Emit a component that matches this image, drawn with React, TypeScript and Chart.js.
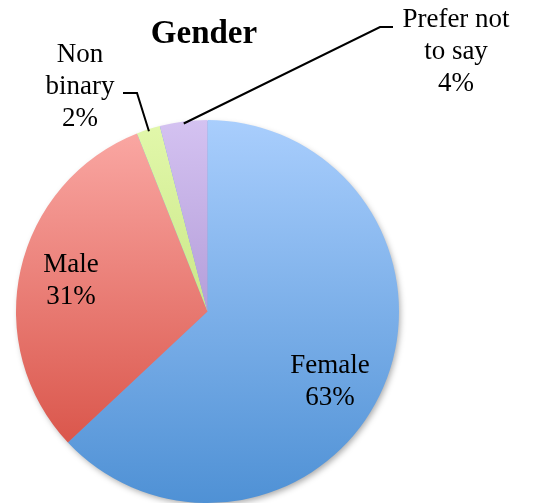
import React, { useEffect, useRef } from "react";
import { Chart, registerables } from "chart.js";

Chart.register(...registerables);

const chartTitle = "Gender";
const categories = ["Female", "Male", "Non binary", "Prefer not to say"];
const values = [63, 31, 2, 4];
const labelLines = [["Female"], ["Male"], ["Non", "binary"], ["Prefer not", "to say"]];

// styles (gradient top / bottom colours per slice)
const topColors = ["#a9cefd", "#fbaaa6", "#e2f8ab", "#d4c2f1"];
const bottomColors = ["#4f91d5", "#d4473b", "#b4d666", "#957ac2"];

// label layout: centre x, first baseline, optional leader line elbow points
const labelLayout = [
  { x: 330, y: 373, leader: null as null | number[][] },
  { x: 71, y: 272, leader: null as null | number[][] },
  { x: 80, y: 62, leader: [[123, 93], [137, 93]] },
  { x: 456, y: 27, leader: [[393, 27], [380, 27]] },
];

const FONT = '"Liberation Serif", "DejaVu Serif", serif';

const labelsPlugin = {
  id: "pieLabels",
  beforeDatasetsDraw(chart: any) {
    const meta = chart.getDatasetMeta(0);
    const arc = meta.data[0];
    if (!arc) return;
    const { x, y, outerRadius } = arc.getProps(["x", "y", "outerRadius"], true);
    const ctx = chart.ctx;
    ctx.save();
    ctx.shadowColor = "rgba(0,0,0,0.35)";
    ctx.shadowBlur = 6;
    ctx.shadowOffsetX = 2;
    ctx.shadowOffsetY = 3;
    ctx.beginPath();
    ctx.arc(x, y, outerRadius - 1, 0, Math.PI * 2);
    ctx.fillStyle = "#6fa6dd";
    ctx.fill();
    ctx.restore();
  },
  afterDraw(chart: any) {
    const ctx = chart.ctx;
    const meta = chart.getDatasetMeta(0);
    ctx.save();
    ctx.fillStyle = "#000";
    ctx.textAlign = "center";
    ctx.textBaseline = "alphabetic";
    ctx.font = `bold 33px ${FONT}`;
    ctx.fillText(chartTitle, 204, 43);

    ctx.font = `27px ${FONT}`;
    const total = values.reduce((a, b) => a + b, 0);
    values.forEach((v, i) => {
      const lay = labelLayout[i];
      const lines = [...labelLines[i], `${Math.round((v / total) * 100)}%`];
      lines.forEach((t, k) => ctx.fillText(t, lay.x, lay.y + k * 32));
      if (lay.leader) {
        const el = meta.data[i];
        const p = el.getProps(["x", "y", "startAngle", "endAngle", "outerRadius"], true);
        const mid = (p.startAngle + p.endAngle) / 2;
        const ex = p.x + Math.cos(mid) * (p.outerRadius - 2);
        const ey = p.y + Math.sin(mid) * (p.outerRadius - 2);
        ctx.beginPath();
        ctx.strokeStyle = "#000";
        ctx.lineWidth = 2;
        ctx.moveTo(lay.leader[0][0], lay.leader[0][1]);
        for (let k = 1; k < lay.leader.length; k++) ctx.lineTo(lay.leader[k][0], lay.leader[k][1]);
        ctx.lineTo(ex, ey);
        ctx.stroke();
      }
    });
    ctx.restore();
  },
};

export default function App() {
  const ref = useRef<HTMLCanvasElement | null>(null);
  useEffect(() => {
    if (!ref.current) return;
    const chart = new Chart(ref.current, {
      type: "pie",
      data: {
        labels: categories,
        datasets: [
          {
            data: values,
            borderWidth: 0,
            backgroundColor: (c: any) => {
              const area = c.chart.chartArea;
              const i = c.dataIndex;
              if (!area || i === undefined) return topColors[i ?? 0];
              const g = c.chart.ctx.createLinearGradient(0, area.top, 0, area.bottom);
              g.addColorStop(0, topColors[i]);
              g.addColorStop(1, bottomColors[i]);
              return g;
            },
          },
        ],
      },
      options: {
        responsive: false,
        devicePixelRatio: 1,
        animation: false,
        layout: { padding: { left: 16, top: 120, right: 138, bottom: 0 } },
        plugins: {
          legend: { display: false },
          tooltip: { enabled: false },
          title: { display: false },
        },
      },
      plugins: [labelsPlugin],
    });
    return () => chart.destroy();
  }, []);
  return (
    <div style={{ position: "fixed", left: 0, top: 0, width: 537, height: 503, background: "#fff" }}>
      <canvas ref={ref} width={537} height={503} style={{ width: 537, height: 503 }} />
    </div>
  );
}
